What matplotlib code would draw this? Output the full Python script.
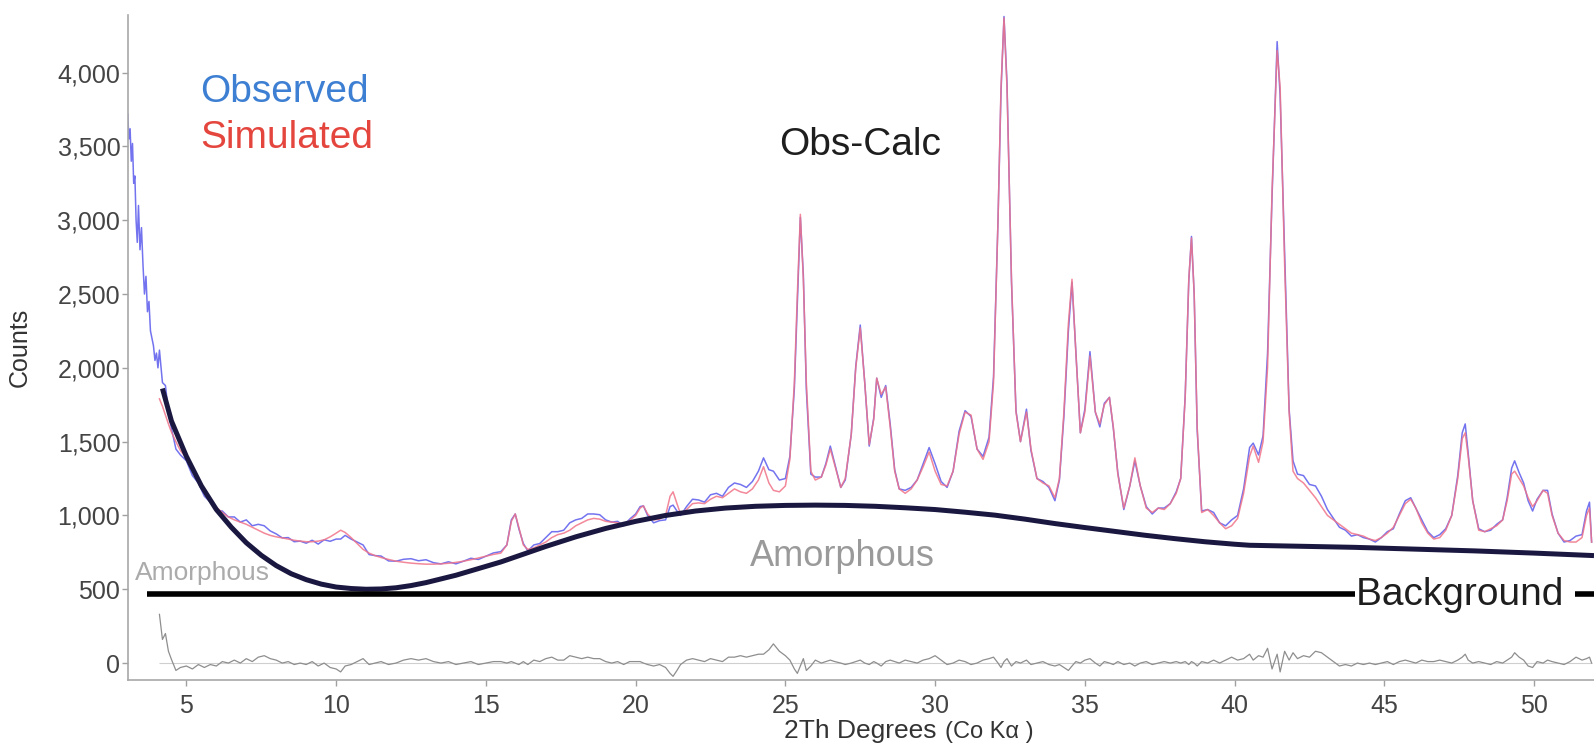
import matplotlib
matplotlib.use("Agg")
import matplotlib.pyplot as plt
from matplotlib.ticker import FuncFormatter
import numpy as np

# ---------------- data ----------------
# observed counts before the refined range starts
early_two_theta = [3.0, 3.04, 3.08, 3.12, 3.16, 3.2, 3.24, 3.28, 3.32, 3.36,
                   3.4, 3.45, 3.5, 3.55, 3.6, 3.65, 3.7, 3.75, 3.8, 3.85,
                   3.9, 3.95, 4.0, 4.05]
early_obs = [3700, 3720, 3550, 3620, 3400, 3520, 3250, 3300, 3000, 2850,
             3100, 2800, 2950, 2700, 2500, 2620, 2380, 2450, 2250, 2200,
             2150, 2050, 2100, 2000]

# refined range: 2-theta, calculated (simulated) counts, observed - calculated
two_theta = [
    4.1, 4.2, 4.3, 4.4, 4.5, 4.65, 4.8, 5.0, 5.2, 5.4,
    5.6, 5.8, 6.0, 6.2, 6.4, 6.6, 6.8, 7.0, 7.2, 7.4,
    7.6, 7.8, 8.0, 8.2, 8.4, 8.6, 8.8, 9.0, 9.2, 9.4,
    9.6, 9.8, 10.0, 10.15, 10.3, 10.5, 10.7, 10.9, 11.1, 11.3,
    11.5, 11.75, 12.0, 12.25, 12.5, 12.75, 13.0, 13.25, 13.5, 13.75,
    14.0, 14.25, 14.5, 14.75, 15.0, 15.25,
    15.5, 15.7, 15.85, 15.98, 16.1, 16.25, 16.4, 16.6, 16.8, 17.0,
    17.2, 17.4, 17.6, 17.8, 18.0, 18.2, 18.4, 18.6, 18.8, 19.0,
    19.2, 19.4, 19.6, 19.8, 20.0, 20.15, 20.26, 20.4, 20.6, 20.8,
    21.0, 21.15, 21.25, 21.38, 21.5, 21.7, 21.9, 22.1, 22.3, 22.5,
    22.7, 22.9, 23.1, 23.3, 23.5, 23.7, 23.9, 24.1, 24.27, 24.45,
    24.6, 24.8, 25.0, 25.15, 25.3, 25.4, 25.5, 25.6, 25.7, 25.85,
    26.0, 26.2, 26.35, 26.5, 26.65, 26.85, 27.0, 27.2, 27.35, 27.5,
    27.65, 27.8, 27.95, 28.05, 28.2, 28.35, 28.5, 28.65, 28.8, 29.0,
    29.2, 29.4, 29.6, 29.8, 30.0, 30.2, 30.4, 30.6, 30.8, 31.0,
    31.2, 31.4, 31.6, 31.8, 31.95, 32.1, 32.2, 32.3, 32.4, 32.55,
    32.7, 32.85, 33.05, 33.2, 33.4, 33.6, 33.8, 34.0, 34.15, 34.3,
    34.45, 34.57, 34.7, 34.85, 35.0, 35.17, 35.35, 35.5, 35.65, 35.82,
    35.95, 36.1, 36.3, 36.5, 36.67, 36.85, 37.05, 37.25, 37.45, 37.65,
    37.85, 38.05, 38.2, 38.35, 38.47, 38.56, 38.65, 38.75, 38.9, 39.1,
    39.3, 39.5, 39.7, 39.9, 40.1, 40.3, 40.5, 40.62, 40.8, 40.95,
    41.1, 41.25, 41.42, 41.52, 41.67, 41.82, 41.95, 42.1, 42.3, 42.5,
    42.7, 42.9, 43.1, 43.3, 43.5, 43.7, 43.9, 44.1, 44.3, 44.5,
    44.7, 44.9, 45.1, 45.3, 45.5, 45.7, 45.88, 46.05, 46.25, 46.45,
    46.65, 46.85, 47.05, 47.25, 47.45, 47.6, 47.7, 47.8, 47.95, 48.15,
    48.35, 48.55, 48.75, 48.95, 49.1, 49.25, 49.35, 49.5, 49.65, 49.8,
    49.95, 50.1, 50.3, 50.45, 50.6, 50.8, 51.0, 51.2, 51.4, 51.6,
    51.75, 51.85, 51.92,
]
calc_counts = [
    1790, 1740, 1680, 1620, 1565, 1500, 1440, 1390, 1310, 1230,
    1160, 1100, 1055, 1020, 990, 970, 955, 940, 920, 900,
    880, 865, 855, 848, 840, 832, 826, 822, 822, 826,
    835, 855, 880, 900, 885, 850, 810, 770, 745, 728,
    715, 702, 690, 683, 677, 673, 670, 670, 672, 676,
    682, 690, 700, 712, 724, 736,
    745, 800, 960, 1010, 920, 800, 770, 780, 800, 820,
    850, 870, 880, 900, 930, 950, 970, 980, 975, 960,
    955, 950, 940, 965, 1000, 1050, 1065, 1010, 970, 975,
    1000, 1130, 1160, 1080, 1010, 1040, 1080, 1085, 1080, 1110,
    1130, 1120, 1150, 1180, 1160, 1150, 1180, 1240, 1330, 1220,
    1170, 1160, 1200, 1380, 1900, 2500, 3040, 2600, 1900, 1300,
    1240, 1260, 1340, 1450, 1340, 1190, 1250, 1550, 2000, 2270,
    1900, 1480, 1650, 1930, 1820, 1870, 1600, 1300, 1180, 1150,
    1180, 1240, 1330, 1430, 1300, 1210, 1200, 1300, 1550, 1700,
    1680, 1450, 1380, 1500, 1900, 3000, 3900, 4370, 3900, 2600,
    1700, 1500, 1700, 1450, 1250, 1220, 1200, 1120, 1250, 1700,
    2300, 2600, 2100, 1560, 1700, 2080, 1700, 1620, 1750, 1800,
    1600, 1280, 1050, 1200, 1390, 1200, 1050, 1020, 1050, 1040,
    1080, 1150, 1250, 1800, 2600, 2880, 2500, 1600, 1020, 1040,
    1000, 950, 910, 930, 980, 1150, 1400, 1470, 1360, 1500,
    2000, 3200, 4150, 3900, 2700, 1700, 1300, 1250, 1220, 1170,
    1120, 1060, 1000, 970, 940, 910, 880, 870, 860, 840,
    830, 850, 880, 920, 1000, 1080, 1110, 1050, 950, 880,
    840, 850, 900, 1000, 1250, 1520, 1560, 1400, 1100, 900,
    890, 910, 930, 970, 1100, 1280, 1300, 1250, 1200, 1120,
    1060, 1100, 1170, 1150, 1000, 880, 830, 820, 820, 850,
    1000, 1050, 820,
]
obs_minus_calc = [
    330, 160, 200, 80, 25, -50, -30, -20, -40, -10,
    -30, -10, -20, 10, 0, 20, 0, 30, 10, 40,
    50, 30, 20, 0, 10, -10, 0, -10, 10, -20,
    0, -30, -40, -60, -20, -10, 10, 30, -10, 0,
    10, -10, 0, 20, 30, 20, 30, 10, 0, 10,
    -10, 0, 10, -10, 0, 10,
    10, 0, 10, 0, -10, 10, -10, 20, 10, 30,
    40, 20, 20, 50, 40, 30, 40, 30, 30, 10,
    0, 10, -10, 10, 10, 10, 0, -10, -20, -10,
    -30, -70, -90, -50, -10, 20, 30, 20, 10, 30,
    20, 10, 40, 40, 50, 40, 50, 60, 60, 90,
    130, 80, 50, 20, -40, -70, -20, 30, -50, -20,
    20, 0, 10, 20, 10, 0, -10, 0, 10, 20,
    0, -10, 10, 0, -20, 10, 20, 10, 0, 20,
    10, 0, 20, 30, 50, 20, -10, 0, 20, 10,
    -10, 0, 20, 30, 40, 0, -30, 10, 30, -20,
    10, 0, 20, -10, 0, 10, -10, -20, -10, -30,
    -50, -20, 10, 0, 20, 30, 0, -20, 10, 0,
    -10, 10, -10, 0, -20, 0, 10, -10, 0, 10,
    0, 10, 0, 10, -10, 10, 0, -20, 10, 0,
    20, 0, 20, 40, 20, 30, 60, 20, 50, 40,
    100, -40, 60, -60, 80, 20, 70, 30, 50, 40,
    80, 70, 40, 10, -20, -10, -20, 0, -10, 0,
    -10, 0, 10, -10, 10, 20, 10, 0, 20, 10,
    10, 20, 10, 0, 20, 40, 60, 20, 0, 10,
    0, -10, 10, 0, 20, 40, 70, 40, 20, -20,
    -30, 10, 0, 20, 10, 0, -10, 10, 40, 20,
    30, 40, 0,
]

# amorphous hump
amorph_two_theta = [4.2, 4.5, 5.0, 5.5, 6.0, 6.5, 7.0, 7.5, 8.0, 8.5,
                    9.0, 9.5, 10.0, 10.5, 11.0, 11.5, 12.0, 12.5, 13.0, 13.5,
                    14.0, 14.5, 15.0, 15.5, 16.0, 17.0, 18.0, 19.0, 20.0, 21.0,
                    22.0, 23.0, 24.0, 25.0, 26.0, 27.0, 28.0, 29.0, 30.0, 31.0,
                    32.0, 33.0, 34.0, 35.0, 36.0, 37.0, 38.0, 39.0, 40.0, 40.5,
                    42.0, 44.0, 46.0, 48.0, 50.0, 52.0]
amorph_counts = [1860, 1640, 1400, 1200, 1040, 920, 815, 730, 660, 605,
                 565, 535, 515, 505, 500, 502, 510, 525, 545, 570,
                 595, 625, 655, 685, 720, 790, 855, 912, 960, 1000,
                 1030, 1050, 1062, 1068, 1070, 1068, 1062, 1052, 1040, 1022,
                 1002, 975, 945, 918, 892, 866, 843, 822, 805, 798,
                 792, 784, 772, 760, 745, 728]

background_level = 468
background_start = 3.67

x_ticks = [5, 10, 15, 20, 25, 30, 35, 40, 45, 50]
y_ticks = [0, 500, 1000, 1500, 2000, 2500, 3000, 3500, 4000]

assert len(two_theta) == len(calc_counts) == len(obs_minus_calc)
assert len(amorph_two_theta) == len(amorph_counts)

# ---------------- figure ----------------
plt.rcParams['font.family'] = ['Liberation Sans', 'DejaVu Sans']

X_MIN, X_MAX = 3.05, 52.0
Y_MIN, Y_MAX = -115, 4390

fig = plt.figure(figsize=(15.94, 7.45), dpi=100)
ax = fig.add_axes([0.0803, 0.0872, 0.9197, 0.8926])

x = np.array(two_theta, dtype=float)
calc = np.array(calc_counts, dtype=float)
diff = np.array(obs_minus_calc, dtype=float)
obs = calc + diff
x_obs = np.concatenate([early_two_theta, x])
y_obs = np.concatenate([early_obs, obs])

ax.plot(x_obs, y_obs, color='#6464ee', lw=1.1, alpha=0.9, zorder=2)
ax.plot(x, calc, color='#f07388', lw=1.1, alpha=0.85, zorder=3)
ax.plot(amorph_two_theta, amorph_counts, color='#1a1840', lw=3.6,
        solid_joinstyle='round', solid_capstyle='butt', zorder=4)
ax.hlines(background_level, background_start, X_MAX, color='black', lw=4.0, zorder=4)

# difference curve
ax.hlines(0, x[0], x[-1], color='#cfcfcf', lw=0.8, zorder=2)
ax.plot(x, diff, color='#8e8e8e', lw=0.9, zorder=3)

# labels inside plot
ax.text(5.45, 3802, 'Observed', color='#3d7fd2', fontsize=28, va='baseline', ha='left')
ax.text(5.45, 3487, 'Simulated', color='#e4463e', fontsize=28, va='baseline', ha='left')
ax.text(24.79, 3440, 'Obs-Calc', color='#1e1e1e', fontsize=28, va='baseline', ha='left')
ax.text(23.82, 657, 'Amorphous', color='#9a9a9a', fontsize=26, va='baseline', ha='left')
ax.text(3.28, 562, 'Amorphous', color='#ababab', fontsize=19, va='baseline', ha='left')
ax.text(44.04, 394, 'Background ', color='#1e1e1e', fontsize=28, va='baseline', ha='left',
        zorder=6, bbox=dict(boxstyle='square,pad=0.02', fc='white', ec='none'))

ax.set_xlim(X_MIN, X_MAX)
ax.set_ylim(Y_MIN, Y_MAX)
ax.set_xticks(x_ticks)
ax.set_yticks(y_ticks)
ax.yaxis.set_major_formatter(FuncFormatter(lambda v, p: f"{int(v):,}"))

for s in ['top', 'right']:
    ax.spines[s].set_visible(False)
for s in ['left', 'bottom']:
    ax.spines[s].set_color('#a8a8a8')
    ax.spines[s].set_linewidth(1.2)

ax.tick_params(axis='both', colors='#a0a0a0', labelcolor='#444444',
               labelsize=18, length=4, width=1)
ax.tick_params(axis='x', pad=6)
ax.tick_params(axis='y', pad=1.5)

ax.set_ylabel('Counts', fontsize=18, color='#333333')
ax.yaxis.set_label_coords(-0.0655, 0.5)

ax.text(0.4475, -0.0872, '2Th Degrees', transform=ax.transAxes, fontsize=19,
        color='#333333', va='baseline', ha='left')
ax.text(0.5575, -0.0872, '(Co K\u03b1 )', transform=ax.transAxes, fontsize=17,
        color='#333333', va='baseline', ha='left')

fig.savefig('out.png', dpi=100)
